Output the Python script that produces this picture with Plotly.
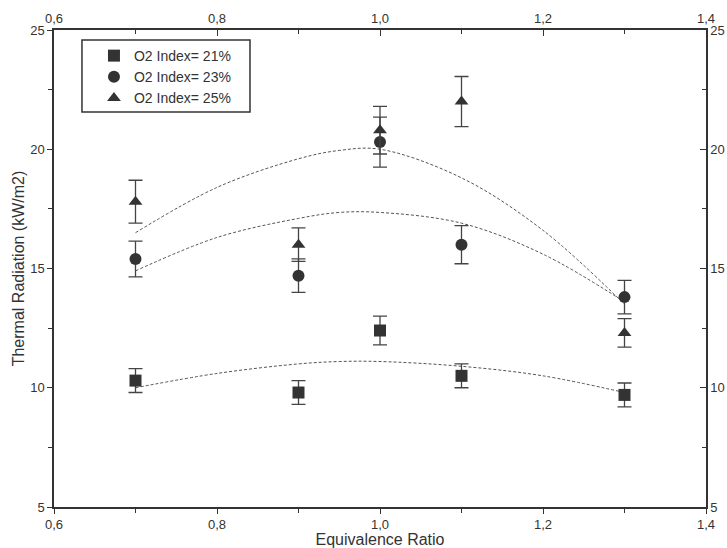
import plotly.graph_objects as go

# Data
phi = [0.7, 0.9, 1.0, 1.1, 1.3]
o21 = [10.3, 9.8, 12.4, 10.5, 9.7]
o21_err = [0.5, 0.5, 0.6, 0.5, 0.5]
o23 = [15.4, 14.7, 20.3, 16.0, 13.8]
o23_err = [0.75, 0.7, 1.05, 0.8, 0.7]
o25 = [17.8, 16.0, 20.8, 22.0, 12.3]
o25_err = [0.9, 0.7, 1.0, 1.05, 0.6]

fit_x = [0.7, 0.8, 0.9, 0.95, 1.0, 1.1, 1.2, 1.3]
fit21 = [10.0, 10.6, 11.0, 11.1, 11.1, 10.9, 10.5, 9.8]
fit23 = [14.9, 16.3, 17.1, 17.35, 17.35, 16.9, 15.6, 13.6]
fit25 = [16.5, 18.4, 19.6, 19.95, 20.0, 18.8, 16.6, 13.5]

labels = ["O2 Index= 21%", "O2 Index= 23%", "O2 Index= 25%"]
symbols = ["square", "circle", "triangle-up"]

FONT = "Liberation Sans, Arial, sans-serif"
DARK = "#333333"

fig = go.Figure()

for fx, fy in [(fit_x, fit21), (fit_x, fit23), (fit_x, fit25)]:
    fig.add_trace(go.Scatter(
        x=fx, y=fy, mode="lines", showlegend=False, hoverinfo="skip",
        line=dict(color="#555555", width=1, dash="3px,2px", shape="spline", smoothing=1.0),
    ))

for ys, es, lab, sym in [(o21, o21_err, labels[0], symbols[0]),
                         (o23, o23_err, labels[1], symbols[1]),
                         (o25, o25_err, labels[2], symbols[2])]:
    fig.add_trace(go.Scatter(
        x=phi, y=ys, mode="markers", name=lab,
        marker=dict(symbol=sym, size=12, color=DARK, line=dict(width=0)),
        error_y=dict(type="data", array=es, visible=True, color="#444444",
                     thickness=1.3, width=7),
    ))

# dummy trace to activate the secondary axes
fig.add_trace(go.Scatter(x=[1.0], y=[15], xaxis="x2", yaxis="y2", mode="markers",
                         marker=dict(opacity=0), showlegend=False, hoverinfo="skip"))

axis_common = dict(showgrid=False, zeroline=False, showline=True, linecolor=DARK,
                   linewidth=1.5, tickcolor=DARK, tickwidth=1.2, mirror=False,
                   automargin=False,
                   tickfont=dict(family=FONT, size=13, color="#333333"))

fig.update_layout(
    width=727, height=548,
    margin=dict(l=54, r=21, t=30, b=41),
    paper_bgcolor="white", plot_bgcolor="white",
    separators=", ",
    font=dict(family=FONT, color="#333333"),
    xaxis=dict(range=[0.6, 1.4], tickvals=[0.6, 0.8, 1.0, 1.2, 1.4], tickformat=".1f",
               ticks="outside", ticklen=5,
               minor=dict(tickvals=[0.7, 0.9, 1.1, 1.3], ticks="outside", ticklen=4,
                          tickcolor=DARK, tickwidth=1.2),
               title=dict(text="Equivalence Ratio", font=dict(family=FONT, size=16), standoff=4),
               **axis_common),
    yaxis=dict(range=[5, 25], tickvals=[5, 10, 15, 20, 25], ticks="outside", ticklen=5,
               minor=dict(tickvals=[7.5, 12.5, 17.5, 22.5], ticks="outside", ticklen=4,
                          tickcolor=DARK, tickwidth=1.2),
               title=dict(text="Thermal Radiation (kW/m2)", font=dict(family=FONT, size=16), standoff=2),
               **axis_common),
    xaxis2=dict(range=[0.6, 1.4], overlaying="x", side="top", anchor="y",
                tickvals=[0.6, 0.8, 1.0, 1.2, 1.4], tickformat=".1f",
                ticks="inside", ticklen=6,
                minor=dict(tickvals=[0.7, 0.9, 1.1, 1.3], ticks="inside", ticklen=4,
                           tickcolor=DARK, tickwidth=1.2),
                **axis_common),
    yaxis2=dict(range=[5, 25], overlaying="y", side="right", anchor="x",
                tickvals=[5, 10, 15, 20, 25], ticks="inside", ticklen=6,
                minor=dict(tickvals=[7.5, 12.5, 17.5, 22.5], ticks="inside", ticklen=4,
                           tickcolor=DARK, tickwidth=1.2),
                **axis_common),
    legend=dict(x=0.0613, y=0.979, xanchor="left", yanchor="top",
                bgcolor="rgba(0,0,0,0)", borderwidth=0,
                font=dict(family=FONT, size=14, color="#333333"),
                itemsizing="constant", tracegroupgap=0),
    shapes=[dict(type="rect", xref="paper", yref="paper",
                 x0=0.0429, x1=0.3006, y0=0.828, y1=0.979,
                 line=dict(color=DARK, width=1.5), layer="above")],
    showlegend=True,
)

fig.write_html("out.html", config={"displayModeBar": False},
               post_script="document.body.style.margin='0';")
